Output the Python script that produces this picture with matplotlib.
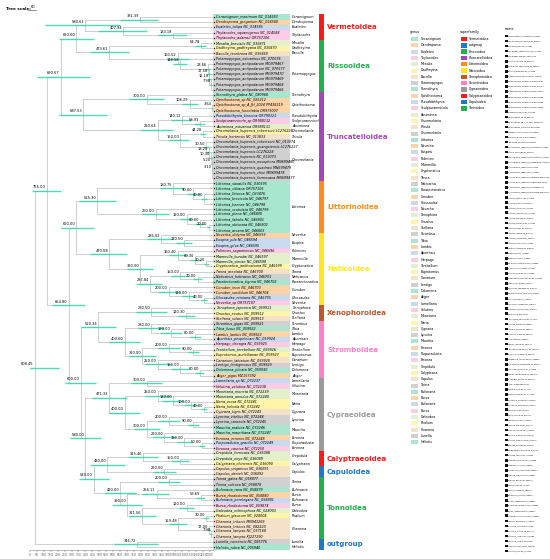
import matplotlib
matplotlib.use("Agg")
import matplotlib.pyplot as plt
from matplotlib.patches import Rectangle

# ---------------- data ----------------
tips = [
 ("Ceraesignum","maximum","NC_014583"),("Dendropoma","gregarium","NC_014580"),("Eualetes","tulipa","NC_014585"),
 ("Thylacodes","squamigerus","NC_014588"),("Thylacodes","adamsii","OR757106"),
 ("Mesalia","brevialis","NC_035871"),("Gadfreyina","gadfreyana","NC_035870"),("Bacolla","terebroea","NC_035869"),
 ("Potamopyrgus","estuarinus","NC_070576"),("Potamopyrgus","antipodarum","MG979467"),("Potamopyrgus","antipodarum","NC_070577"),
 ("Potamopyrgus","antipodarum","MG979470"),("Potamopyrgus","antipodarum","MG979469"),("Potamopyrgus","antipodarum","MG979468"),
 ("Potamopyrgus","antipodarum","MG979466"),
 ("Stenothyra","glabra","NC_080968"),("Opisthostoma","sp","NC_085212"),("Opisthostoma","sp_A_JH_2024","PP438319"),
 ("Opisthostoma","fuscolabia","OR975007"),("Pseudobithynia","kirenica","OR790121"),("Sculpturamnicola","sp","OR988132"),
 ("Assiminea","estuarina","OR988131"),("Oncomelania","hupensis_robertsoni","LC276226"),("Tricula","hortensis","NC_013833"),
 ("Oncomelania","hupensis_robertsoni","NC_013074"),("Oncomelania","hupensis_guangxiensis","LC276227"),("Oncomelania","hupensis","LC276228"),
 ("Oncomelania","hupensis","NC_013073"),("Oncomelania","hupensis_nosophora","MN699480"),("Oncomelania","hupensis_quadrasi","MN699479"),
 ("Oncomelania","hupensis_chiui","MN699478"),("Oncomelania","hupensis_formosana","MN699477"),
 ("Littorina","saxatilis","NC_030595"),("Littorina","sitkana","OR757105"),("Littorina","littorea","NC_023476"),
 ("Littorina","brevicula","NC_046797"),("Littorina","keenae","NC_046798"),("Littorina","scutulata","NC_046799"),
 ("Littorina","plena","NC_046800"),("Littorina","fabalis","NC_046801"),("Littorina","obtusata","NC_046802"),("Littorina","arcana","NC_046803"),
 ("Neverita","didyma","NC_046593"),("Euspira","pila","NC_046594"),("Euspira","gilva","NC_046595"),
 ("Polinices","sagamiensis","NC_046596"),("Mammilla","kurodai","NC_046597"),("Mammilla","simiae","NC_046598"),("Cryptonatica","janthostoma","NC_046599"),
 ("Tanea","areolata","NC_046700"),("Naticarius","hebraeus","NC_046701"),("Paratectonatica","tigrina","NC_046702"),
 ("Conuber","incei","NC_046703"),("Conuber","sordidum","NC_046704"),("Glossaulax","reiniana","NC_046705"),("Neverita","sp","OR757107"),
 ("Xenophora","japonica","NC_059911"),("Onustus","exutus","NC_059912"),("Stellaria","solaris","NC_059913"),
 ("Strombus","gigas","NC_059921"),("Tibia","fusus","NC_059922"),("Lambis","lambis","NC_059923"),("Aporrhais","pespelecani","NC_059924"),
 ("Harpago","chiragra","NC_059925"),("Terebellum","terebellum","NC_059926"),("Euprotomus","aurisdianae","NC_059927"),
 ("Canarium","labiatum","NC_059928"),("Lentigo","lentiginosus","NC_059929"),("Dolomena","plicata","NC_059930"),("Aliger","gigas","MZ157392"),
 ("Lamellaria","sp","NC_072237"),("Velutina","velutina","NC_072238"),("Monetaria","moneta","NC_072239"),("Monetaria","annulus","NC_072240"),
 ("Naria","erosa","NC_072241"),("Naria","helvola","NC_072242"),("Cypraea","tigris","NC_072243"),("Lyncina","vitellus","NC_072244"),
 ("Lyncina","carneola","NC_072245"),("Mauritia","arabica","NC_072246"),("Mauritia","mauritiana","NC_072247"),("Erronea","errones","NC_072248"),
 ("Purpuradusta","gracilis","NC_072249"),("Erronea","caurica","NC_072250"),
 ("Crepidula","fornicata","NC_036088"),("Crepidula","onyx","NC_036089"),("Calyptraea","chinensis","NC_036090"),
 ("Capulus","ungaricus","NC_036091"),("Capulus","danieli","NC_036092"),
 ("Tonna","galea","NC_058877"),("Tonna","sulcosa","NC_058878"),("Bufonaria","rana","NC_058879"),("Bursa","rhodostoma","NC_058880"),
 ("Bufonaria","perelegans","NC_058881"),("Bursa","rhodostoma","NC_059874"),("Galeodea","echinophora","NC_028003"),
 ("Phalium","glaucum","NC_028004"),("Charonia","tritonis","MN943269"),("Charonia","tritonis","NC_082220"),
 ("Charonia","lampas","NC_037168"),("Charonia","lampas","KJ227290"),
 ("Lunella","coreensis","NC_085776"),("Haliotis","rubra","NC_005940"),
]
superfamilies = ["Vermetoidea","Rissooidea","Truncatelloidea","Littorinoidea","Naticoidea","Xenophoroidea",
                 "Stromboidea","Cypraeoidea","Calyptraeoidea","Capuloidea","Tonnoidea","outgroup"]
sf_ranges = [(0,4),(5,14),(15,31),(32,41),(42,55),(56,58),(59,69),(70,83),(84,86),(87,88),(89,100),(101,102)]
sf_order_colors = {"Vermetoidea":"#ff1a1a","Rissooidea":"#22b14c","Truncatelloidea":"#a347ba","Littorinoidea":"#ff8c1a",
                   "Naticoidea":"#ffe81a","Xenophoroidea":"#c0572b","Stromboidea":"#ff80c8","Cypraeoidea":"#9a9a9a",
                   "Calyptraeoidea":"#ff1a1a","Capuloidea":"#1f78c8","Tonnoidea":"#22b14c","outgroup":"#1f78c8"}
legend_sf = ["Vermetoidea","outgroup","Rissooidea","Truncatelloidea","Littorinoidea","Naticoidea","Xenophoroidea",
             "Stromboidea","Cypraeoidea","Calyptraeoidea","Capuloidea","Tonnoidea"]
# nodes: (first tip, last tip, age, hpd low, hpd high)
nodes = [
 (0,102,808.45,700,900),(0,100,755.0,690,820),(0,31,690.67,560,800),(0,14,620.0,540,700),
 (0,4,580.61,420,760),(0,1,331.39,250,420),(2,4,407.94,300,520),(3,4,183.18,120,250),
 (5,14,473.61,380,560),(5,6,54.78,30,80),(7,14,160.52,110,210),(8,14,148.58,120,180),(9,14,23.66,15,35),
 (10,14,17.58,10,25),(11,14,16.18,10,22),(12,14,7.98,4,12),
 (15,31,587.53,480,700),(15,18,300.0,220,380),(16,18,106.29,70,140),(17,18,3.64,1,8),(19,31,250.64,180,330),
 (19,21,140.12,100,190),(20,21,58.93,35,85),(22,31,150.0,110,200),(22,23,44.28,30,60),(24,31,30.5,20,42),
 (25,31,18.2,12,26),(26,31,10.3,6,15),(27,31,5.2,3,8),(28,31,3.1,1,5),
 (32,100,654.8,580,730),(32,55,620.0,540,690),(32,41,525.3,440,610),(32,36,180.75,130,240),(33,36,90.0,60,120),
 (34,36,40.0,25,55),(37,41,260.0,200,320),(38,41,120.0,90,150),(39,41,60.0,40,80),(40,41,20.0,12,28),
 (42,55,470.08,390,560),(42,44,236.02,180,300),(43,44,130.5,95,170),(45,55,330.0,270,390),(45,48,160.4,120,200),
 (46,48,80.3,55,105),(47,48,30.2,20,42),(49,55,287.84,230,350),(49,51,150.0,110,190),(50,51,70.0,50,90),
 (52,55,200.0,150,250),(53,55,110.0,80,140),(54,55,40.0,25,55),
 (56,100,600.0,530,670),(56,69,520.34,440,600),(56,58,280.5,210,350),(57,58,120.3,80,160),(59,69,400.6,330,470),
 (59,62,280.0,220,340),(60,62,190.0,140,240),(61,62,80.0,55,105),(63,69,320.0,260,380),(63,65,200.0,150,250),
 (64,65,90.0,65,115),(66,69,250.0,190,310),(67,69,150.0,110,190),(68,69,60.0,40,80),
 (70,100,580.0,510,650),(70,83,471.33,390,550),(70,71,300.0,230,370),(72,83,400.0,330,470),(72,76,250.0,190,310),
 (73,76,180.0,130,230),(74,76,100.0,70,130),(75,76,40.0,25,55),(77,83,300.0,240,360),(77,79,200.0,150,250),
 (78,79,90.0,65,115),(80,83,220.0,170,270),(81,83,130.0,95,165),(82,83,50.0,35,65),
 (84,100,540.0,470,610),(84,88,480.0,400,560),(84,86,315.46,250,380),(85,86,150.0,110,190),(87,88,220.0,170,270),
 (89,100,420.0,350,490),(89,90,200.0,150,250),(91,100,390.0,320,460),(91,93,256.11,200,320),(92,93,53.69,35,75),
 (94,100,321.56,260,380),(94,95,120.0,85,155),(96,100,159.48,120,200),(96,97,30.0,20,42),(98,100,17.0,10,25),
 (99,100,7.98,4,12),
 (101,102,346.72,250,450),
]
genus_colors = ["#a8e6cf","#ffd3a8","#c9daf0","#ffcce8","#e2f0cb","#fff5a8","#f5e1c8","#d0d0d0"]
axis_labels = list(range(0, 1301, 50))

# ---------------- figure ----------------
W, H = 550, 559
fig = plt.figure(figsize=(W/100, H/100), dpi=100)
N = len(tips)
top_px, bot_px = 17, 547
step = (bot_px - top_px) / (N - 1)
ax_bottom = (H - bot_px - step/2) / H
ax_height = (bot_px - top_px + step) / H
ylim = (N - 0.5, -0.5)

ax = fig.add_axes([30/W, ax_bottom, (213-30)/W, ax_height])
XMAX = 830
ax.set_xlim(-XMAX, 0); ax.set_ylim(*ylim)
for s in ["top","right","left"]:
    ax.spines[s].set_visible(False)
ax.spines["bottom"].set_linewidth(0.4); ax.spines["bottom"].set_color("#888")
ax.set_yticks([])
span = XMAX * 180/183
ax.set_xticks([-XMAX + l/1300*span for l in axis_labels])
ax.set_xticklabels([str(l) for l in axis_labels], fontsize=2.2)
ax.tick_params(axis="x", length=1.5, width=0.3, pad=1, colors="#555")

pos = {("t", i): (0.0, float(i)) for i in range(N)}
def children(nd):
    s, e = nd[0], nd[1]
    inner = [m for m in nodes if m is not nd and s <= m[0] and m[1] <= e and (m[1]-m[0]) < (e-s)]
    maximal = [m for m in inner if not any(o is not m and o[0] <= m[0] and m[1] <= o[1] and (o[1]-o[0]) > (m[1]-m[0]) for o in inner)]
    covered = set()
    for m in maximal:
        covered.update(range(m[0], m[1]+1))
    return [("n", m[:3]) for m in maximal] + [("t", i) for i in range(s, e+1) if i not in covered]
for nd in sorted(nodes, key=lambda n: (n[1]-n[0])):
    ch = children(nd)
    ys = [pos[c][1] for c in ch]
    x0 = -nd[2]
    pos[("n", nd[:3])] = (x0, (min(ys)+max(ys))/2)
    for c in ch:
        cx, cy = pos[c]
        ax.plot([x0, cx], [cy, cy], color="#bbbbbb", lw=0.5, solid_capstyle="butt", zorder=1)
    ax.plot([x0, x0], [min(ys), max(ys)], color="#bbbbbb", lw=0.5, zorder=1)
for nd in nodes:
    x, y = pos[("n", nd[:3])]
    ax.plot([-nd[4], -nd[3]], [y, y], color="#2ed8a8", lw=1.0, alpha=0.85, zorder=2, solid_capstyle="butt")
    ax.text(x - 4, y - 0.3, f"{nd[2]:.2f}", fontsize=2.6, ha="right", va="bottom", zorder=3)

lab = fig.add_axes([213/W, ax_bottom, (330-213)/W, ax_height])
lab.set_xlim(0, 117); lab.set_ylim(*ylim); lab.axis("off")
gi = -1; prev = None
tip_col = []; groups = []
for i, (g, sp, acc) in enumerate(tips):
    if g != prev:
        gi += 1; prev = g; groups.append([g, i, i, genus_colors[gi % len(genus_colors)]])
    else:
        groups[-1][2] = i
    tip_col.append(genus_colors[gi % len(genus_colors)])
for i, (g, sp, acc) in enumerate(tips):
    lab.barh(i, 77, left=0, height=1.0, color=tip_col[i], edgecolor="none")
    lab.plot([1.2], [i], marker="s", ms=0.9, color="#c00000" if i == 97 else "#222", mew=0)
    lab.text(3, i, f"{g}_{sp} {acc}", fontsize=2.4, style="italic", va="center", ha="left")
for g, s, e, c in groups:
    lab.text(79, (s+e)/2, g, fontsize=2.4, style="italic", va="center", ha="left")

sax = fig.add_axes([319/W, ax_bottom, 80/W, ax_height])
sax.set_xlim(0, 80); sax.set_ylim(*ylim); sax.axis("off")
for name, (s, e) in zip(superfamilies, sf_ranges):
    c = sf_order_colors[name]
    sax.bar(2.5, e - s + 1, bottom=s - 0.5, width=5, color=c, edgecolor="none")
    sax.text(8, (s+e)/2, name, fontsize=5.0, color=c, fontweight="bold", va="center", ha="left")

leg = fig.add_axes([0, 0, 1, 1]); leg.set_xlim(0, W); leg.set_ylim(H, 0); leg.axis("off")
leg.text(410, 33, "genus", fontsize=2.4)
for k, (g, s, e, c) in enumerate(groups):
    y = 39 + k * 6.3
    leg.add_patch(Rectangle((411, y-2), 7, 4, color=c, lw=0))
    leg.text(421, y, g, fontsize=2.3, va="center")
leg.text(460, 33, "superfamily", fontsize=2.4)
for k, name in enumerate(legend_sf):
    y = 39 + k * 6.3
    leg.add_patch(Rectangle((461, y-2.2), 6, 4.4, color=sf_order_colors[name], lw=0))
    leg.text(469, y, name, fontsize=2.3, va="center")
leg.text(505, 30, "name", fontsize=2.4)
for i, (g, sp, acc) in enumerate(tips):
    y = 36 + i * 5.05
    leg.add_patch(Rectangle((505, y-1.3), 2.6, 2.6, color="#111", lw=0))
    leg.text(508.5, y, f"{g}_{sp} {acc}", fontsize=1.3, style="italic", va="center")
leg.text(6, 9, "Tree scale:", fontsize=3.0, fontweight="bold", va="center")
leg.text(31, 6.5, "60", fontsize=2.6, va="center")
leg.plot([28, 36], [9.5, 9.5], color="#333", lw=0.4)

fig.savefig("out.png", dpi=100, facecolor="white")
